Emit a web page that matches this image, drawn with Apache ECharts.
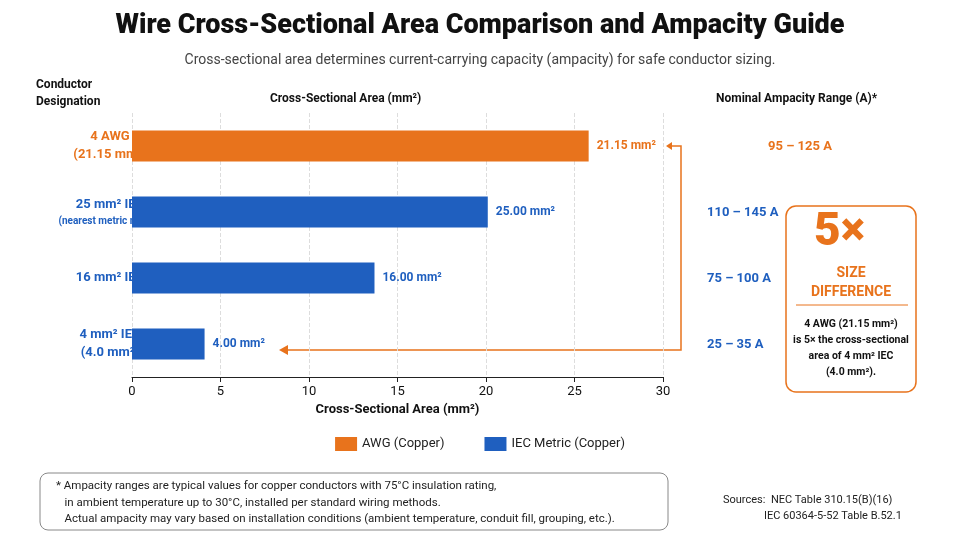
<!DOCTYPE html>
<html style="height:100%">
<head>
<meta charset="utf-8">
<title>Wire Cross-Sectional Area</title>
<script src="https://cdn.jsdelivr.net/npm/echarts@6/dist/echarts.min.js"></script>
</head>
<body style="height:100%;margin:0;background:#fff">
<div id="container" style="width:960px;height:540px"></div>
<script>
var categories = ['4 AWG', '25 mm² IEC', '16 mm² IEC', '4 mm² IEC'];
var catLabels = ['{o|4 AWG}\n{o|(21.15 mm²)}', '{b|25 mm² IEC}\n{s|(nearest metric match)}', '{b|16 mm² IEC}', '{b|4 mm² IEC}\n{b|(4.0 mm²)}'];
// bar lengths as drawn in the picture
var awgValues = [25.8, '-', '-', '-'];
var iecValues = ['-', 20.1, 13.7, 4.1];
var barLabels = ['21.15 mm²', '25.00 mm²', '16.00 mm²', '4.00 mm²'];
var ampacity = ['95 – 125 A', '110 – 145 A', '75 – 100 A', '25 – 35 A'];

var ORANGE = '#e8731c', BLUE = '#1f5fbf';
var F = 'Roboto, "Noto Sans", sans-serif';
var chart = echarts.init(document.getElementById('container'));

function lbl(color) {
  return { show: true, position: 'right', distance: 8, fontFamily: F, fontWeight: 'bold', fontSize: 12, color: color,
    formatter: function (p) { return barLabels[p.dataIndex]; } };
}

var ampTexts = ampacity.map(function (a, i) {
  return { type: 'text', left: i === 0 ? 768 : 707, top: 140 + i * 66,
    style: { text: a, fill: i === 0 ? ORANGE : BLUE, font: 'bold 13px ' + F } };
});

chart.setOption({
  textStyle: { fontFamily: F },
  title: [
    { text: 'Wire Cross-Sectional Area Comparison and Ampacity Guide', left: 'center', top: 8,
      textStyle: { fontSize: 27, fontWeight: 900, color: '#111', fontFamily: F } },
    { text: 'Cross-sectional area determines current-carrying capacity (ampacity) for safe conductor sizing.', left: 'center', top: 48,
      textStyle: { fontSize: 14, fontWeight: 'normal', color: '#444', fontFamily: F } }
  ],
  legend: { bottom: 84, left: 'center', itemWidth: 22, itemHeight: 14, itemGap: 40, icon: 'rect',
    textStyle: { fontSize: 13, color: '#222', fontFamily: F }, data: ['AWG (Copper)', 'IEC Metric (Copper)'] },
  grid: { left: 132, right: 297, top: 113, bottom: 163 },
  xAxis: { type: 'value', min: 0, max: 30, interval: 5,
    name: 'Cross-Sectional Area (mm²)', nameLocation: 'middle', nameGap: 26,
    nameTextStyle: { fontWeight: 'bold', fontSize: 13, color: '#111' },
    axisLine: { show: true, lineStyle: { color: '#222' } }, axisTick: { show: true, lineStyle: { color: '#222' } },
    axisLabel: { color: '#111', fontSize: 13 },
    splitLine: { lineStyle: { type: 'dashed', color: '#ddd' } } },
  yAxis: { type: 'category', data: categories, inverse: true,
    axisLine: { show: false }, axisTick: { show: false },
    axisLabel: { margin: 22, align: 'center', formatter: function (v, i) { return catLabels[i]; },
      rich: { o: { color: ORANGE, fontWeight: 'bold', fontSize: 13, lineHeight: 18, align: 'center' },
              b: { color: BLUE, fontWeight: 'bold', fontSize: 13, lineHeight: 18, align: 'center' },
              s: { color: BLUE, fontWeight: 'bold', fontSize: 10, lineHeight: 14, align: 'center' } } } },
  series: [
    { name: 'AWG (Copper)', type: 'bar', stack: 's', barWidth: 31, data: awgValues, itemStyle: { color: ORANGE }, label: lbl(ORANGE) },
    { name: 'IEC Metric (Copper)', type: 'bar', stack: 's', barWidth: 31, data: iecValues, itemStyle: { color: BLUE }, label: lbl(BLUE) }
  ],
  graphic: [
    { type: 'text', left: 36, top: 76, style: { text: 'Conductor\nDesignation', fill: '#111', font: 'bold 12px ' + F, align: 'center', lineHeight: 17 }, x: 0 },
    { type: 'text', left: 270, top: 93, style: { text: 'Cross-Sectional Area (mm²)', fill: '#111', font: 'bold 12px ' + F } },
    { type: 'text', left: 716, top: 93, style: { text: 'Nominal Ampacity Range (A)*', fill: '#111', font: 'bold 12px ' + F } },
    { type: 'polyline', shape: { points: [[668, 146], [681, 146], [681, 350], [284, 350]] }, style: { stroke: ORANGE, lineWidth: 1.5, fill: null } },
    { type: 'polygon', shape: { points: [[279, 350], [288, 345], [288, 355]] }, style: { fill: ORANGE } },
    { type: 'polygon', shape: { points: [[666, 146], [672, 142], [672, 150]] }, style: { fill: ORANGE } },
    { type: 'rect', shape: { x: 786, y: 206, width: 130, height: 186, r: 10 }, style: { stroke: ORANGE, lineWidth: 1.5, fill: '#fff' } },
    { type: 'text', left: 814, top: 210, style: { text: '5×', fill: ORANGE, font: '900 46px ' + F } },
    { type: 'text', x: 851, y: 264, style: { text: 'SIZE\nDIFFERENCE', fill: ORANGE, font: 'bold 14px ' + F, align: 'center', lineHeight: 19 } },
    { type: 'line', shape: { x1: 796, y1: 305, x2: 908, y2: 305 }, style: { stroke: ORANGE, lineWidth: 1 } },
    { type: 'text', x: 851, y: 316, style: { text: '4 AWG (21.15 mm²)\nis 5× the cross-sectional\narea of 4 mm² IEC\n(4.0 mm²).', fill: '#111', font: 'bold 10.5px ' + F, align: 'center', lineHeight: 16 } },
    { type: 'rect', shape: { x: 40, y: 473, width: 628, height: 57, r: 8 }, style: { stroke: '#888', lineWidth: 1, fill: '#fff' } },
    { type: 'text', left: 56, top: 478, style: { text: '* Ampacity ranges are typical values for copper conductors with 75°C insulation rating,\n   in ambient temperature up to 30°C, installed per standard wiring methods.\n   Actual ampacity may vary based on installation conditions (ambient temperature, conduit fill, grouping, etc.).', fill: '#222', font: '11.5px ' + F, lineHeight: 16.5 } },
    { type: 'text', left: 723, top: 492, style: { text: 'Sources:  NEC Table 310.15(B)(16)\n               IEC 60364-5-52 Table B.52.1', fill: '#222', font: '11px ' + F, lineHeight: 16 } }
  ].concat(ampTexts)
});
</script>
</body>
</html>
